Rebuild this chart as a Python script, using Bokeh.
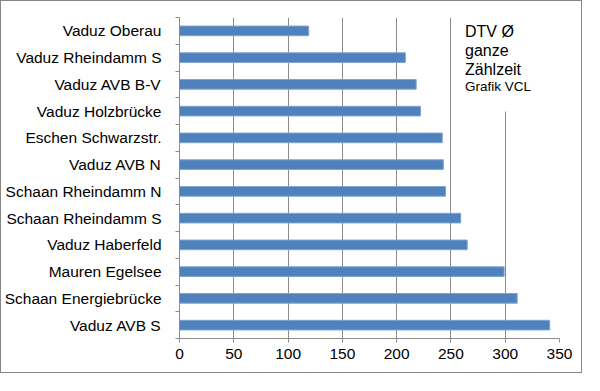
from bokeh.plotting import figure
from bokeh.models import Range1d, FixedTicker, Label, BoxAnnotation
from bokeh.embed import file_html
from bokeh.resources import INLINE

# categories listed top to bottom as in the chart
categories = ["Vaduz Oberau", "Vaduz Rheindamm S", "Vaduz AVB B-V", "Vaduz Holzbrücke",
              "Eschen Schwarzstr.", "Vaduz AVB N", "Schaan Rheindamm N", "Schaan Rheindamm S",
              "Vaduz Haberfeld", "Mauren Egelsee", "Schaan Energiebrücke", "Vaduz AVB S"]
values = [119, 208, 218, 222, 242, 243, 245, 259, 265, 299, 311, 341]
x_ticks = [0, 50, 100, 150, 200, 250, 300, 350]
note_title = "DTV Ø\nganze\nZählzeit"
note_source = "Grafik VCL"

n = len(categories)
ypos = [n - i - 0.5 for i in range(n)]
bounds = list(range(n + 1))

FONT = "Liberation Sans"
GRID = "#8c8c8c"

p = figure(width=582, height=373, output_backend="svg", toolbar_location=None,
           x_range=Range1d(0, 350), y_range=Range1d(0, n),
           min_border_left=171, min_border_right=24, min_border_top=16, min_border_bottom=36)
p.styles = {"border": "1px solid #868686"}
p.outline_line_color = None
p.background_fill_color = "white"
p.border_fill_color = "white"

p.hbar(y=ypos, right=values, left=0, height=0.36,
       fill_color="#4F81BD", line_color="#7ea3d3", line_width=1)

# x axis
p.xaxis.ticker = FixedTicker(ticks=x_ticks)
p.xaxis.axis_line_color = GRID
p.xaxis.major_tick_line_color = GRID
p.xaxis.major_tick_out = 4
p.xaxis.major_tick_in = 0
p.xaxis.minor_tick_line_color = None
p.xaxis.major_label_standoff = 6
p.xaxis.major_label_text_font = FONT
p.xaxis.major_label_text_font_size = "15.5px"
p.xaxis.major_label_text_color = "black"

p.xgrid.ticker = FixedTicker(ticks=x_ticks)
p.xgrid.grid_line_color = GRID
p.ygrid.grid_line_color = None

# y axis: labels at category centres, tick marks at category boundaries
p.yaxis.ticker = FixedTicker(ticks=ypos, minor_ticks=bounds)
p.yaxis.major_label_overrides = {y: c for y, c in zip(ypos, categories)}
p.yaxis.axis_line_color = GRID
p.yaxis.major_tick_line_color = None
p.yaxis.major_tick_out = 0
p.yaxis.major_tick_in = 0
p.yaxis.minor_tick_line_color = GRID
p.yaxis.minor_tick_out = 4
p.yaxis.minor_tick_in = 0
p.yaxis.major_label_standoff = 14
p.yaxis.major_label_text_font = FONT
p.yaxis.major_label_text_font_size = "15.5px"
p.yaxis.major_label_text_color = "black"

# text box
p.add_layout(BoxAnnotation(left=255, right=345, top=n, bottom=n - 3.51,
                           fill_color="white", fill_alpha=1, line_color=None))
p.add_layout(Label(x=263, y=n - 0.21, text=note_title, text_baseline="top",
                   text_font=FONT, text_font_size="16px", text_color="black",
                   text_line_height=1.12))
p.add_layout(Label(x=263, y=n - 2.59, text=note_source, text_baseline="middle",
                   text_font=FONT, text_font_size="13.5px", text_color="black"))

open("out.html", "w").write(file_html(p, INLINE))
